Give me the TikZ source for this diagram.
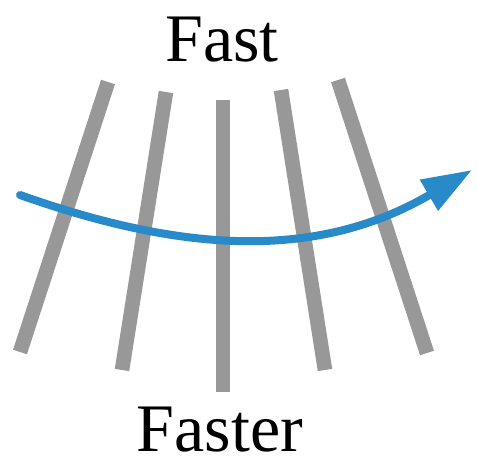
\documentclass[tikz,border=0pt]{standalone}
\usepackage{fontspec}
\setmainfont{Liberation Serif}
\usetikzlibrary{arrows.meta}
\definecolor{rodgray}{RGB}{152,152,152}
\definecolor{flowblue}{RGB}{40,138,200}

\begin{document}
\begin{tikzpicture}[x=0.5pt,y=-0.5pt,line join=round,
  rung/.style={rodgray,line width=7.3pt,line cap=butt},
  wordtag/.style={font=\fontsize{34}{40}\selectfont,anchor=base,inner sep=0pt}]
\useasboundingbox (0,0) rectangle (477,469);
\draw[rung] (108,82) -- (20,352);
\draw[rung] (166,92) -- (122,370);
\draw[rung] (223,100) -- (223,392);
\draw[rung] (281,90) -- (325,370);
\draw[rung] (338,80) -- (427,353);
\coordinate (in) at (20,195);
\coordinate (out) at (472,170);
\draw[-{Triangle[length=25pt,width=17pt]},flowblue,line width=4pt,line cap=round] (in) .. controls (170,248) and (310,265) .. (out);
\node[wordtag] (fast) at (222,62) {Fast};
\node[wordtag] (faster) at (220,452) {Faster};
\end{tikzpicture}
\end{document}
